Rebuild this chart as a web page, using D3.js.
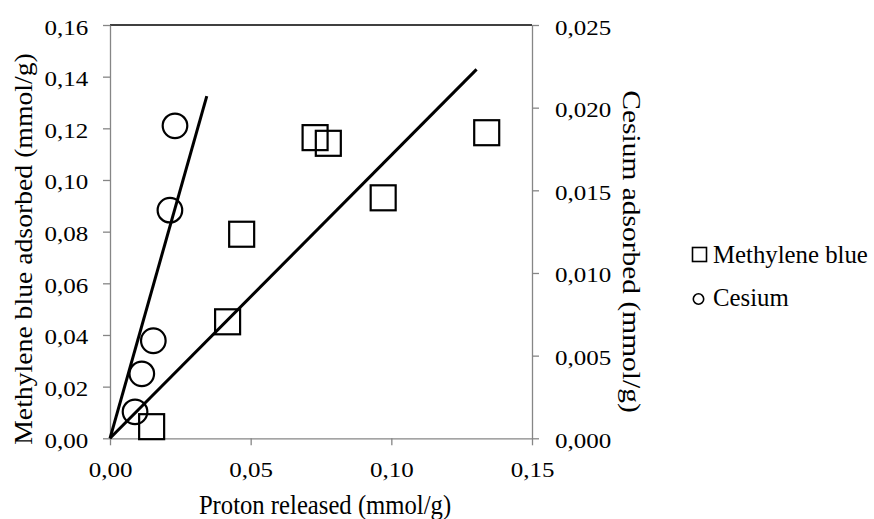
<!DOCTYPE html>
<html>
<head>
<meta charset="utf-8">
<script src="https://cdn.jsdelivr.net/npm/d3@7"></script>
<style>
  html, body { margin: 0; padding: 0; background: #fff; }
  svg { display: block; }
</style>
</head>
<body>
<svg id="chart" width="874" height="519"></svg>
<script>
// Methylene blue: proton released vs. adsorbed (left axis)
const protonMB = [0.0148, 0.0418, 0.0468, 0.0729, 0.0776, 0.0971, 0.1339];
const mbAdsorbed = [0.0045, 0.0451, 0.0790, 0.1164, 0.1142, 0.0931, 0.1183];

// Cesium: proton released vs. adsorbed (right axis)
const protonCs = [0.0089, 0.0113, 0.0154, 0.0213, 0.0231];
const csAdsorbed = [0.0016, 0.0039, 0.0059, 0.0138, 0.0189];

// Linear trend lines through the origin (start and end points)
const mbTrendX = [0, 0.1303];
const mbTrendY = [0, 0.1428];
const csTrendX = [0, 0.0344];
const csTrendY = [0, 0.0207];

// Tick values
const xTicks = [0, 0.05, 0.10, 0.15];
const yLeftTicks = [0, 0.02, 0.04, 0.06, 0.08, 0.10, 0.12, 0.14, 0.16];
const yRightTicks = [0, 0.005, 0.010, 0.015, 0.020, 0.025];

const legendLabels = ["Methylene blue", "Cesium"];

const FONT = "'Liberation Serif', Tinos, 'Times New Roman', 'DejaVu Serif', serif";

const svg = d3.select("#chart");
const plotLeft = 110, plotRight = 532, plotTop = 25, plotBottom = 438.3;

const x = d3.scaleLinear().domain([0, 0.15]).range([plotLeft, plotRight]);
const yL = d3.scaleLinear().domain([0, 0.16]).range([plotBottom, plotTop]);
const yR = d3.scaleLinear().domain([0, 0.025]).range([plotBottom, plotTop]);

const comma = f => v => d3.format(f)(v).replace(".", ",");
const axisGrey = "#868686";
const tickScaleX = 1.22;

// top border of plot area
svg.append("line")
  .attr("x1", plotLeft).attr("x2", plotRight).attr("y1", plotTop).attr("y2", plotTop)
  .attr("stroke", "#000").attr("stroke-width", 1.3);

function styleAxis(g) {
  g.attr("font-family", FONT);
  g.select(".domain").attr("stroke", axisGrey).attr("stroke-width", 1.3);
  g.selectAll(".tick line").attr("stroke", axisGrey).attr("stroke-width", 1.3);
  g.selectAll("text")
    .attr("font-family", FONT)
    .attr("font-size", 20.5)
    .attr("fill", "#000");
}

// bottom axis
const gx = svg.append("g").attr("transform", `translate(0,${plotBottom})`)
  .call(d3.axisBottom(x).tickValues(xTicks).tickFormat(comma(".2f")).tickSize(7).tickSizeOuter(0));
styleAxis(gx);
gx.selectAll("text").attr("y", 38.4).attr("dy", 0).attr("transform", `scale(${tickScaleX},1)`);

// left axis
const gyl = svg.append("g").attr("transform", `translate(${plotLeft},0)`)
  .call(d3.axisLeft(yL).tickValues(yLeftTicks).tickFormat(comma(".2f")).tickSize(7).tickSizeOuter(0));
styleAxis(gyl);
gyl.selectAll("text").attr("x", -21.7 / tickScaleX).attr("y", 9).attr("dy", 0)
  .attr("transform", `scale(${tickScaleX},1)`);

// right axis
const gyr = svg.append("g").attr("transform", `translate(${plotRight},0)`)
  .call(d3.axisRight(yR).tickValues(yRightTicks).tickFormat(comma(".3f")).tickSize(7).tickSizeOuter(0));
styleAxis(gyr);
gyr.selectAll("text").attr("x", 23 / tickScaleX).attr("y", 9).attr("dy", 0)
  .attr("transform", `scale(${tickScaleX},1)`);

// axis titles
svg.append("text")
  .attr("transform", "translate(325,514) scale(1,1.08)")
  .attr("text-anchor", "middle").attr("font-family", FONT).attr("font-size", 24.7)
  .text("Proton released (mmol/g)");

svg.append("text")
  .attr("transform", "translate(31.7,249) scale(1,1.1) rotate(-90)")
  .attr("text-anchor", "middle").attr("font-family", FONT).attr("font-size", 25.2)
  .text("Methylene blue adsorbed (mmol/g)");

svg.append("text")
  .attr("transform", "translate(622.7,251.5) scale(1,1.17) rotate(90)")
  .attr("text-anchor", "middle").attr("font-family", FONT).attr("font-size", 25.2)
  .text("Cesium adsorbed (mmol/g)");

// trend lines
const lineMB = d3.line().x(d => x(d[0])).y(d => yL(d[1]));
const lineCs = d3.line().x(d => x(d[0])).y(d => yR(d[1]));
svg.append("path")
  .attr("d", lineMB(d3.zip(mbTrendX, mbTrendY)))
  .attr("fill", "none").attr("stroke", "#000").attr("stroke-width", 3);
svg.append("path")
  .attr("d", lineCs(d3.zip(csTrendX, csTrendY)))
  .attr("fill", "none").attr("stroke", "#000").attr("stroke-width", 3);

// methylene blue markers (open squares)
const sq = 25;
svg.append("g").selectAll("rect")
  .data(d3.zip(protonMB, mbAdsorbed))
  .join("rect")
  .attr("x", d => x(d[0]) - sq / 2)
  .attr("y", d => yL(d[1]) - sq / 2)
  .attr("width", sq).attr("height", sq)
  .attr("fill", "none").attr("stroke", "#000").attr("stroke-width", 2.2);

// cesium markers (open circles)
svg.append("g").selectAll("circle")
  .data(d3.zip(protonCs, csAdsorbed))
  .join("circle")
  .attr("cx", d => x(d[0]))
  .attr("cy", d => yR(d[1]))
  .attr("r", 12.3)
  .attr("fill", "none").attr("stroke", "#000").attr("stroke-width", 2.2);

// legend
const lg = svg.append("g");
lg.append("rect")
  .attr("x", 692.5).attr("y", 247.5).attr("width", 14).attr("height", 14)
  .attr("fill", "none").attr("stroke", "#000").attr("stroke-width", 1.6);
lg.append("circle")
  .attr("cx", 698.5).attr("cy", 299).attr("r", 5.2)
  .attr("fill", "none").attr("stroke", "#000").attr("stroke-width", 1.6);
lg.selectAll("text.lbl")
  .data(legendLabels)
  .join("text")
  .attr("class", "lbl")
  .attr("transform", (d, i) => `translate(713,${i === 0 ? 263.3 : 306}) scale(1,1.05)`)
  .attr("font-family", FONT).attr("font-size", 24.8)
  .text(d => d);
</script>
</body>
</html>
